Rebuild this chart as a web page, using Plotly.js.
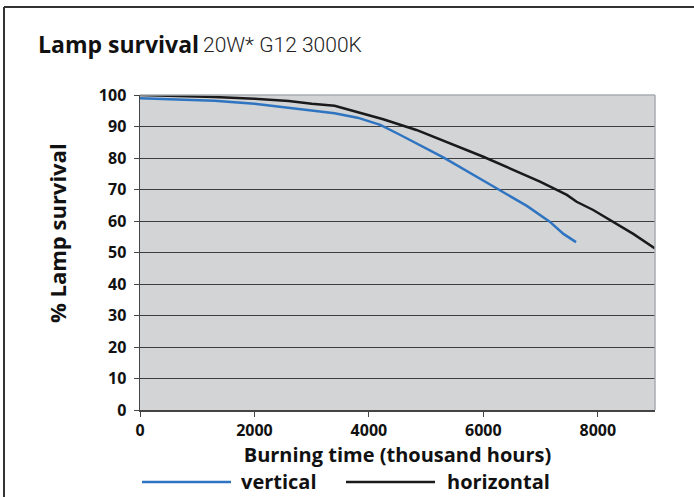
<!DOCTYPE html>
<html>
<head>
<meta charset="utf-8">
<script src="https://cdn.plot.ly/plotly-3.0.1.min.js"></script>
<style>html,body{margin:0;padding:0;background:#fff;}#chart{width:694px;height:497px;}</style>
</head>
<body>
<div id="chart"></div>
<script>
const seriesNames = ["vertical", "horizontal"];
const verticalHours = [0, 1300, 2000, 2500, 3000, 3400, 3800, 4200, 4550, 5300, 6230, 6760, 7160, 7400, 7620];
const verticalSurvival = [99, 98.2, 97.2, 96.2, 95, 94.2, 92.8, 90.5, 87.3, 80.2, 70.4, 64.8, 59.8, 55.9, 53.3];
const horizontalHours = [0, 1300, 2000, 2600, 3000, 3400, 4250, 4830, 6000, 6990, 7460, 7630, 7920, 8620, 9000];
const horizontalSurvival = [100, 99.4, 98.8, 98.1, 97.2, 96.6, 92.3, 88.9, 80.4, 72.5, 68.3, 66.1, 63.5, 55.9, 51.3];
const xTicks = [0, 2000, 4000, 6000, 8000];
const yTicks = [0, 10, 20, 30, 40, 50, 60, 70, 80, 90, 100];
const colors = ["#2f74c0", "#1a1a1a"];

const FONT = "Open Sans, Noto Sans, sans-serif";
const FONT_LIGHT = "Roboto, Lato, sans-serif";

const traces = [
  {x: verticalHours, y: verticalSurvival, name: seriesNames[0], mode: "lines",
   line: {color: colors[0], width: 2.5}},
  {x: horizontalHours, y: horizontalSurvival, name: seriesNames[1], mode: "lines",
   line: {color: colors[1], width: 2.5}}
];

const L = 140, R = 655, T = 95, B = 410;
const px = v => (v - L) / (R - L);
const py = v => (B - v) / (B - T);

const layout = {
  width: 694, height: 497,
  margin: {l: L, r: 694 - R, t: T, b: 497 - B, pad: 0},
  paper_bgcolor: "#ffffff",
  plot_bgcolor: "#d3d4d6",
  showlegend: false,
  font: {family: FONT, color: "#111"},
  xaxis: {
    range: [0, 9000], tickvals: xTicks, ticktext: xTicks.map(String),
    showgrid: false, zeroline: false, automargin: false,
    showline: true, linecolor: "#444", linewidth: 1.5,
    ticks: "outside", ticklen: 5, tickcolor: "#444", tickwidth: 1,
    tickfont: {family: FONT, size: 16, color: "#111", weight: "bold"},
    title: {text: "Burning time (thousand hours)", standoff: 2,
            font: {family: FONT, size: 20, color: "#111", weight: "bold"}}
  },
  yaxis: {
    range: [0, 100], tickvals: yTicks, automargin: false,
    showgrid: true, gridcolor: "#3d3d3d", gridwidth: 1,
    zeroline: false,
    showline: true, linecolor: "#444", linewidth: 1.5,
    ticks: "outside", ticklen: 5, tickcolor: "#444", tickwidth: 1,
    ticklabelstandoff: 4,
    tickfont: {family: FONT, size: 16, color: "#111", weight: "bold"}
  },
  shapes: [
    {type: "line", xref: "paper", yref: "paper", x0: 0, x1: 1, y0: 1, y1: 1, line: {color: "#a9adb1", width: 1.5}},
    {type: "line", xref: "paper", yref: "paper", x0: 1, x1: 1, y0: 0, y1: 1, line: {color: "#a9adb1", width: 1.5}},
    {type: "line", xref: "paper", yref: "paper", x0: px(4), x1: px(4), y0: py(7), y1: py(510), line: {color: "#333", width: 2}},
    {type: "line", xref: "paper", yref: "paper", x0: px(4), x1: px(700), y0: py(7), y1: py(7), line: {color: "#333", width: 2}},
    {type: "line", xref: "paper", yref: "paper", x0: px(142), x1: px(231), y0: py(482), y1: py(482), line: {color: colors[0], width: 2.5}},
    {type: "line", xref: "paper", yref: "paper", x0: px(346), x1: px(435), y0: py(482), y1: py(482), line: {color: colors[1], width: 2.5}}
  ],
  annotations: [
    {xref: "paper", yref: "paper", x: px(36), y: py(44), xanchor: "left", yanchor: "middle", showarrow: false,
     text: "<b>Lamp survival</b>", font: {family: FONT, size: 23, color: "#111"}},
    {xref: "paper", yref: "paper", x: px(201), y: py(45), xanchor: "left", yanchor: "middle", showarrow: false,
     text: "20W* G12 3000K", font: {family: FONT_LIGHT, size: 21, color: "#222", weight: 300}},
    {xref: "paper", yref: "paper", x: px(57), y: py(233), xanchor: "center", yanchor: "middle", showarrow: false,
     textangle: -90, text: "<b>% Lamp survival</b>", font: {family: FONT, size: 22, color: "#111"}},
    {xref: "paper", yref: "paper", x: px(239), y: py(481), xanchor: "left", yanchor: "middle", showarrow: false,
     text: "<b>" + seriesNames[0] + "</b>", font: {family: FONT, size: 20, color: "#111"}},
    {xref: "paper", yref: "paper", x: px(445), y: py(481), xanchor: "left", yanchor: "middle", showarrow: false,
     text: "<b>" + seriesNames[1] + "</b>", font: {family: FONT, size: 20, color: "#111"}}
  ]
};

Plotly.newPlot("chart", traces, layout, {displayModeBar: false, staticPlot: true});
</script>
</body>
</html>
